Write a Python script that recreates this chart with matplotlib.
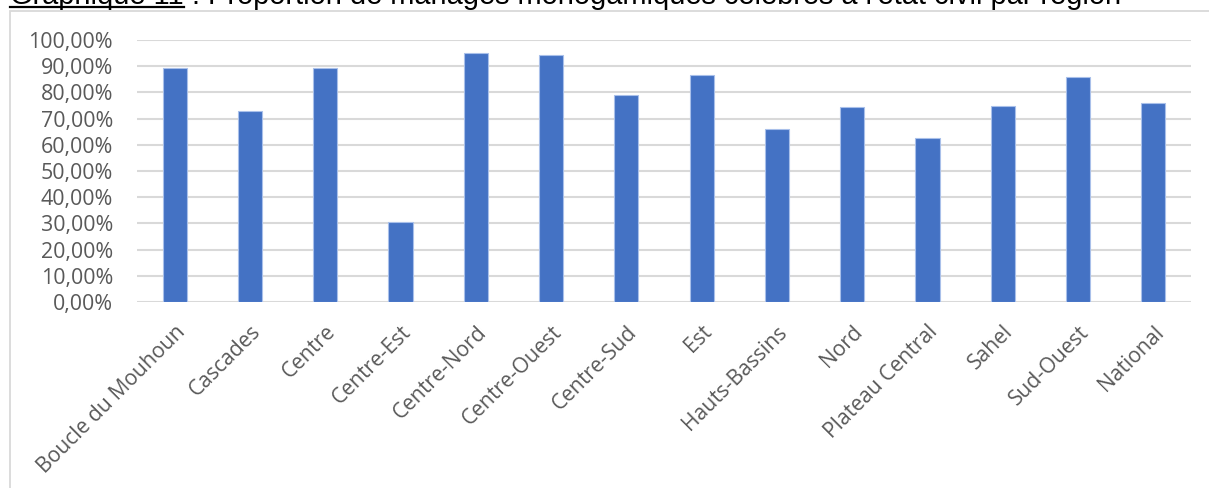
import matplotlib
matplotlib.use("Agg")
import matplotlib.pyplot as plt
from matplotlib.patches import Rectangle
from matplotlib.lines import Line2D
from matplotlib.ticker import FuncFormatter

regions = ["Boucle du Mouhoun", "Cascades", "Centre", "Centre-Est", "Centre-Nord",
           "Centre-Ouest", "Centre-Sud", "Est", "Hauts-Bassins", "Nord",
           "Plateau Central", "Sahel", "Sud-Ouest", "National"]
proportions = [0.893, 0.729, 0.893, 0.304, 0.952, 0.943, 0.791, 0.865,
               0.662, 0.743, 0.625, 0.748, 0.859, 0.760]

W, H = 1209, 488
fig = plt.figure(figsize=(W / 100, H / 100), dpi=100)

# cadre gris du graphique
fig.patches.append(Rectangle((10 / W, -0.1), 1.2, (H - 11) / H + 0.1,
                             transform=fig.transFigure, fill=False,
                             edgecolor="#d9d9d9", linewidth=1.3))

ax = fig.add_axes([137 / W, 1 - 302 / H, (1191 - 137) / W, (302 - 40) / H])
x = range(len(regions))
ax.bar(x, proportions, width=0.32, color="#4472c4", edgecolor="#a9c0ea",
       linewidth=0.8, zorder=3)

ax.set_xlim(-0.5, len(regions) - 0.5)
ax.set_ylim(0, 1.0)
ax.set_yticks([i / 10 for i in range(11)])
ax.yaxis.set_major_formatter(FuncFormatter(lambda v, p: f"{v * 100:.2f}%".replace(".", ",")))
ax.grid(axis="y", color="#d9d9d9", linewidth=1.5, zorder=0)
for s in ax.spines.values():
    s.set_visible(False)
ax.tick_params(length=0, labelcolor="#595959")
ax.tick_params(axis="y", pad=17.3, labelsize=15.4)
ax.set_xticks(list(x))
ax.set_xticklabels(regions, rotation=45, ha="right", va="top",
                   rotation_mode="anchor", fontfamily="Open Sans", fontsize=15.2)
for lab in ax.get_yticklabels():
    lab.set_fontfamily("Open Sans")
ax.tick_params(axis="x", pad=14)

# titre (coupé en haut de l'image)
fig.canvas.draw()
r = fig.canvas.get_renderer()
ty = 1 - 4 / H
t1 = fig.text(10 / W, ty, "Graphique 11", fontsize=20.9, family="Liberation Sans",
              va="baseline", ha="left", color="black")
bb = t1.get_window_extent(r)
fig.text(bb.x1 / W, ty, " : Proportion de mariages monogamiques célébrés à l'état civil par région",
         fontsize=20.9, family="Liberation Sans", va="baseline", ha="left", color="black")
fig.lines.append(Line2D([bb.x0 / W, bb.x1 / W], [ty - 2.5 / H, ty - 2.5 / H],
                        transform=fig.transFigure, color="black", linewidth=1.6))

fig.savefig("out.png", dpi=100)
